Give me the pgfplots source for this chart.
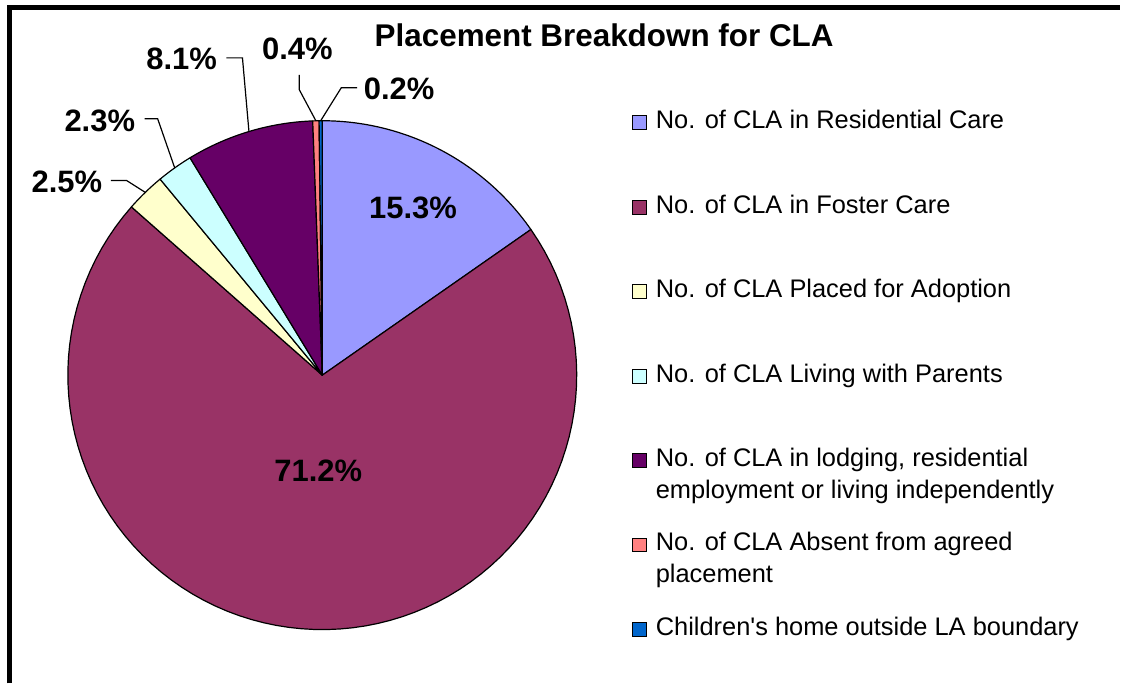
\documentclass[border=0pt]{standalone}
\usepackage{pgfplots}
\pgfplotsset{compat=1.18}
\usepackage{fontspec}
\setmainfont{Liberation Sans}

\definecolor{resid}{HTML}{9999FF}
\definecolor{foster}{HTML}{993366}
\definecolor{adopt}{HTML}{FFFFCC}
\definecolor{parents}{HTML}{CCFFFF}
\definecolor{lodging}{HTML}{660066}
\definecolor{absent}{HTML}{FF8080}
\definecolor{outside}{HTML}{0066CC}

% axis units are pixels of the 1122x685 chart (1px = 0.75pt), pie centre (323,309), r = 255
% \slice{share before}{share}{colour}, shares in percent, clockwise from 12 o'clock
\newcommand{\slice}[3]{%
  \addplot[fill=#3, draw=black, line width=0.9pt, line join=round,
    domain=90-3.6*(#1+#2):90-3.6*#1, samples=90, variable=\t]
    ({323+255*cos(\t)}, {309+255*sin(\t)}) -- (axis cs:323,309) -- cycle;}
\newcommand{\lab}[1]{\fontsize{23.25pt}{28pt}\selectfont\bfseries #1}
% legend row: baseline y, colour, text
\newcommand{\legrow}[3]{%
  \filldraw[fill=#2, draw=black, line width=0.75pt] (axis cs:634,#1-1) rectangle (axis cs:648,#1+13);
  \node[anchor=base west, inner sep=0pt] at (axis cs:657,#1)
    {\fontsize{19.1pt}{24pt}\selectfont\parbox[t]{330pt}{#3}};}

\begin{document}
\begin{tikzpicture}
\begin{axis}[
    width=841.5pt, height=513.75pt, scale only axis,
    xmin=0, xmax=1122, ymin=0, ymax=685,
    hide axis, clip=false,
]
\path (axis cs:0,0) rectangle (axis cs:1122,685);

\slice{0}{15.3}{resid}
\slice{15.3}{71.2}{foster}
\slice{86.5}{2.5}{adopt}
\slice{89.0}{2.3}{parents}
\slice{91.3}{8.1}{lodging}
\slice{99.4}{0.4}{absent}
\slice{99.8}{0.2}{outside}

% legend
\legrow{556}{resid}{No. of CLA in Residential Care}
\legrow{471.4}{foster}{No. of CLA in Foster Care}
\legrow{386.7}{adopt}{No. of CLA Placed for Adoption}
\legrow{302.1}{parents}{No. of CLA Living with Parents}
\legrow{217.4}{lodging}{No. of CLA in lodging, residential\\employment or living independently}
\legrow{132.8}{absent}{No. of CLA Absent from agreed\\placement}
\legrow{48.1}{outside}{Children\textquotesingle s home outside LA boundary}

% leader lines
\draw[line width=0.9pt] (axis cs:227,627) -- (axis cs:243,627) -- (axis cs:249.5,553.2);
\draw[line width=0.9pt] (axis cs:300,610) -- (axis cs:300,595) -- (axis cs:316.6,563.9);
\draw[line width=0.9pt] (axis cs:358,597) -- (axis cs:342,597) -- (axis cs:321.4,564);
\draw[line width=0.9pt] (axis cs:145,566) -- (axis cs:158,566) -- (axis cs:175.1,516.7);
\draw[line width=0.9pt] (axis cs:111,504) -- (axis cs:127,504) -- (axis cs:145.6,492.2);

% percentage labels
\node[anchor=base, inner sep=0pt] at (axis cs:414,465.7) {\lab{15.3\%}};
\node[anchor=base, inner sep=0pt] at (axis cs:319,202) {\lab{71.2\%}};
\node[anchor=base, inner sep=0pt] at (axis cs:182,615) {\lab{8.1\%}};
\node[anchor=base, inner sep=0pt] at (axis cs:298,625) {\lab{0.4\%}};
\node[anchor=base, inner sep=0pt] at (axis cs:400,585) {\lab{0.2\%}};
\node[anchor=base, inner sep=0pt] at (axis cs:100,553) {\lab{2.3\%}};
\node[anchor=base, inner sep=0pt] at (axis cs:67,492) {\lab{2.5\%}};

% title
\node[anchor=base, inner sep=0pt] at (axis cs:605.5,638)
    {\fontsize{23.6pt}{28pt}\selectfont\bfseries Placement Breakdown for CLA};

% frame (top and left edges only)
\draw[line width=3.75pt, line join=miter] (axis cs:9.5,0) -- (axis cs:9.5,677.5) -- (axis cs:1122,677.5);
\end{axis}
\end{tikzpicture}
\end{document}
